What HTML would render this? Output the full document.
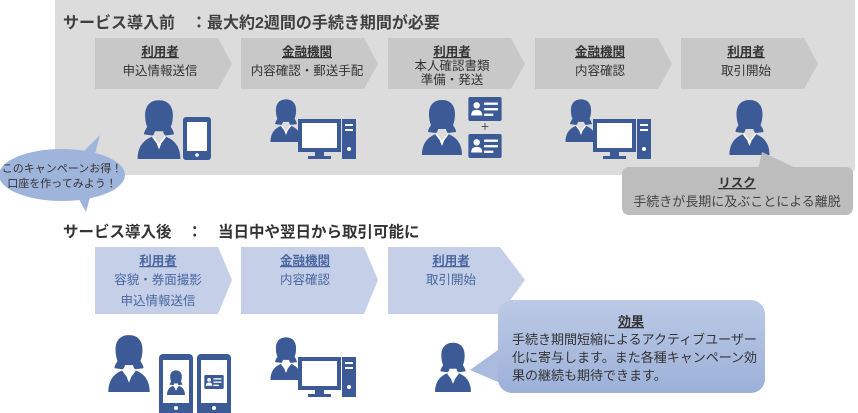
<!DOCTYPE html>
<html><head><meta charset="utf-8"><style>
html,body{margin:0;padding:0;background:#fff;}
svg{display:block;font-family:"Liberation Sans","Noto Sans CJK JP",sans-serif;}
</style></head><body>
<svg width="858" height="413" viewBox="0 0 858 413" xmlns="http://www.w3.org/2000/svg">
<defs>
<symbol id="p" viewBox="0 0 40 58">
<path d="M20 3C11 3 7 9 7 17c0 5 1 9 2 11c-2 3-3 5-3 7l8 1c1-1 2-2 2-4h8c0 2 1 3 2 4l8-1c0-2-1-4-3-7c1-2 2-6 2-11C33 9 29 3 20 3Z" fill="#3b5a96"/>
<path d="M0 58c0-12 6-18 14-21l6 8 6-8c8 3 14 9 14 21Z" fill="#3b5a96"/>
<path d="M14 37l6 8 6-8" fill="none" stroke="#fff" stroke-width="1.5"/>
<path d="M18 44l2 5 2-5" fill="#fff"/>
</symbol>
<symbol id="pc" viewBox="0 0 86 63">
<use href="#p" x="0" y="0" width="32" height="45"/>
<rect x="28" y="22" width="43" height="33" fill="#3b5a96"/>
<rect x="32" y="26" width="35" height="25" fill="#fff"/>
<rect x="45" y="55" width="9" height="4" fill="#3b5a96"/>
<rect x="38" y="59" width="23" height="3" fill="#3b5a96"/>
<rect x="72" y="22" width="14" height="40" fill="#3b5a96"/>
<rect x="75" y="27" width="8" height="2" fill="#fff"/><rect x="75" y="32" width="8" height="2" fill="#fff"/>
<circle cx="79" cy="52" r="2" fill="#fff"/>
</symbol>
<symbol id="card" viewBox="0 0 36 26">
<rect width="36" height="26" rx="2" fill="#3b5a96"/>
<circle cx="9" cy="9" r="3.5" fill="#fff"/><path d="M3 20c0-5 3-6 6-6s6 1 6 6Z" fill="#fff"/>
<rect x="17" y="6" width="15" height="2.5" fill="#fff"/><rect x="17" y="12" width="15" height="2.5" fill="#fff"/><rect x="17" y="18" width="10" height="2.5" fill="#fff"/>
</symbol>
<linearGradient id="g" x1="0" y1="0" x2="0" y2="1"><stop offset="0" stop-color="#bccae6"/><stop offset="1" stop-color="#9cb0d8"/></linearGradient>
</defs>

<!-- top panel -->
<rect x="55" y="-10" width="800" height="185" rx="8" fill="#dcdcdc"/>
<text x="63" y="28" font-size="16" font-weight="bold" fill="#404040">サービス導入前　：最大約2週間の手続き期間が必要</text>

<g fill="#c8c8c8">
<path d="M95 38h123l14 26-14 25H95Z"/>
<path d="M241 38h123l14 26-14 25H241Z"/>
<path d="M388 38h123l14 26-14 25H388Z"/>
<path d="M535 38h123l14 26-14 25H535Z"/>
<path d="M681 38h123l14 26-14 25H681Z"/>
</g>
<g font-size="12.5" fill="#333" text-anchor="middle">
<text x="160" y="56" font-weight="bold" text-decoration="underline">利用者</text><text x="160" y="75">申込情報送信</text>
<text x="307" y="56" font-weight="bold" text-decoration="underline">金融機関</text><text x="307" y="75">内容確認・郵送手配</text>
<text x="452" y="56" font-weight="bold" text-decoration="underline">利用者</text><text x="452" y="70">本人確認書類</text><text x="452" y="84">準備・発送</text>
<text x="600" y="56" font-weight="bold" text-decoration="underline">金融機関</text><text x="600" y="75">内容確認</text>
<text x="746" y="56" font-weight="bold" text-decoration="underline">利用者</text><text x="746" y="75">取引開始</text>
</g>

<!-- top icons -->
<use href="#p" x="136" y="97" width="46" height="62"/>
<rect x="183" y="117" width="28" height="43" rx="3" fill="#3b5a96"/><rect x="187" y="122" width="20" height="29" fill="#fff"/><circle cx="197" cy="155" r="1.8" fill="#fff"/>
<use href="#pc" x="270" y="97" width="86" height="63"/>
<use href="#p" x="422" y="97" width="40" height="58"/>
<use href="#card" x="467" y="97" width="36" height="24"/>
<text x="485" y="131" font-size="14" fill="#555" text-anchor="middle">+</text>
<use href="#card" x="467" y="134" width="36" height="24"/>
<use href="#pc" x="565" y="97" width="86" height="63"/>
<use href="#p" x="727" y="97" width="45" height="58"/>

<!-- risk -->
<path d="M762 152L758 170 800 170Z" fill="#bdbdbd"/>
<rect x="622" y="167" width="231" height="48" rx="7" fill="#bdbdbd"/>
<text x="737" y="187" font-size="12.5" font-weight="bold" fill="#333" text-anchor="middle" text-decoration="underline">リスク</text>
<text x="737" y="206" font-size="13" fill="#444" text-anchor="middle">手続きが長期に及ぶことによる離脱</text>

<!-- campaign bubble -->
<path d="M75 160L100 135 92 165Z" fill="#9fb4db"/>
<path d="M75 192L86 212 92 190Z" fill="#9fb4db"/>
<ellipse cx="62" cy="175" rx="63" ry="26" fill="#9fb4db"/>
<text x="62" y="172" font-size="11" fill="#333" text-anchor="middle">このキャンペーンお得！</text>
<text x="62" y="187" font-size="11" fill="#333" text-anchor="middle">口座を作ってみよう！</text>

<!-- bottom -->
<text x="63" y="237" font-size="15.5" font-weight="bold" fill="#333">サービス導入後　：　当日中や翌日から取引可能に</text>
<g fill="#c5d0e8">
<path d="M95 247h123l14 33-14 34H95Z"/>
<path d="M241 247h123l14 33-14 34H241Z"/>
<path d="M388 247h112l25 33-25 34H388Z"/>
</g>
<g font-size="12.5" fill="#4a66a0" text-anchor="middle">
<text x="158" y="265" font-weight="bold" text-decoration="underline">利用者</text><text x="158" y="284">容貌・券面撮影</text><text x="158" y="305">申込情報送信</text>
<text x="305" y="265" font-weight="bold" text-decoration="underline">金融機関</text><text x="305" y="284">内容確認</text>
<text x="451" y="265" font-weight="bold" text-decoration="underline">利用者</text><text x="451" y="284">取引開始</text>
</g>

<use href="#p" x="106" y="332" width="46" height="60"/>
<rect x="159" y="354" width="34" height="62" rx="4" fill="#3b5a96"/><rect x="163" y="360" width="26" height="43" fill="#fff"/><circle cx="176" cy="408" r="2" fill="#fff"/>
<use href="#p" x="167" y="369" width="18" height="26"/>
<rect x="197" y="354" width="34" height="62" rx="4" fill="#3b5a96"/><rect x="201" y="360" width="26" height="43" fill="#fff"/><circle cx="214" cy="408" r="2" fill="#fff"/>
<use href="#card" x="204" y="375" width="20" height="14"/>
<use href="#pc" x="270" y="335" width="86" height="63"/>
<use href="#p" x="431" y="340" width="44" height="52"/>

<!-- effect bubble -->
<path d="M470 370L505 345 505 385Z" fill="#a9bbde"/>
<rect x="498" y="300" width="267" height="93" rx="14" fill="url(#g)"/>
<text x="631" y="326" font-size="13" font-weight="bold" fill="#333" text-anchor="middle" text-decoration="underline">効果</text>
<g font-size="13" fill="#333">
<text x="512" y="344">手続き期間短縮によるアクティブユーザー</text>
<text x="512" y="362">化に寄与します。また各種キャンペーン効</text>
<text x="512" y="380">果の継続も期待できます。</text>
</g>
</svg>
</body></html>
